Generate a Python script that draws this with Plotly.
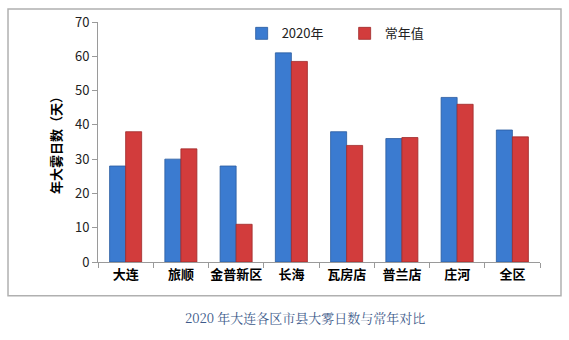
import plotly.graph_objects as go

categories = ["大连", "旅顺", "金普新区", "长海", "瓦房店", "普兰店", "庄河", "全区"]
values_2020 = [28, 30, 28, 61, 38, 36, 48, 38.5]
values_normal = [38, 33, 11, 58.5, 34, 36.3, 46, 36.5]
y_ticks = [0, 10, 20, 30, 40, 50, 60, 70]

fig = go.Figure()
fig.add_trace(go.Bar(
    x=categories, y=values_2020, name="2020年",
    marker=dict(color="#3b7bd0", line=dict(color="#2a5a9e", width=0.8)),
))
fig.add_trace(go.Bar(
    x=categories, y=values_normal, name="常年值",
    marker=dict(color="#d23c3c", line=dict(color="#9e2a2a", width=0.8)),
))

fig.update_layout(
    width=569, height=340,
    margin=dict(l=98, r=29, t=20, b=78),
    paper_bgcolor="white", plot_bgcolor="white",
    barmode="group", bargap=0.42, bargroupgap=0.0,
    font=dict(family="Noto Sans CJK SC, DejaVu Sans", size=12, color="#222"),
    legend=dict(
        orientation="h", x=0.325, y=1.015, xanchor="left", yanchor="top",
        font=dict(size=13, color="#222"), itemwidth=30,
        bgcolor="rgba(0,0,0,0)", tracegroupgap=0,
        entrywidth=58,
    ),
    showlegend=True,
    xaxis=dict(
        showline=True, linecolor="#9a9a9a", linewidth=1,
        ticks="outside", tickson="boundaries", ticklen=5, tickcolor="#9a9a9a",
        tickfont=dict(size=13, color="#000", family="Noto Sans CJK SC"),
        tickangle=0,
        showgrid=False,
    ),
    yaxis=dict(
        range=[0, 70], tickvals=y_ticks, showline=True, linecolor="#9a9a9a", linewidth=1,
        ticks="outside", ticklen=5, tickcolor="#9a9a9a", showgrid=False,
        tickfont=dict(size=13, color="#222"),
        title=dict(text="<b>年大雾日数（天）</b>", font=dict(size=13, color="#000"), standoff=10),
        zeroline=False,
    ),
    shapes=[dict(
        type="rect", xref="paper", yref="paper",
        x0=-0.2036, x1=1.0475, y0=-0.1405, y1=1.0537,
        line=dict(color="#b0b0b0", width=1.5), fillcolor="rgba(0,0,0,0)", layer="below",
    )],
    annotations=[dict(
        text="2020 年大连各区市县大雾日数与常年对比", xref="paper", yref="paper",
        x=(305 - 98) / 442, y=(262 - 318) / 242, xanchor="center", yanchor="middle",
        showarrow=False, font=dict(size=13, color="#3d5a8a", family="Noto Serif CJK SC, Noto Sans CJK SC"),
    )],
)

fig.update_xaxes(tickprefix="<b>", ticksuffix="</b>")

fig.write_html("out.html")
